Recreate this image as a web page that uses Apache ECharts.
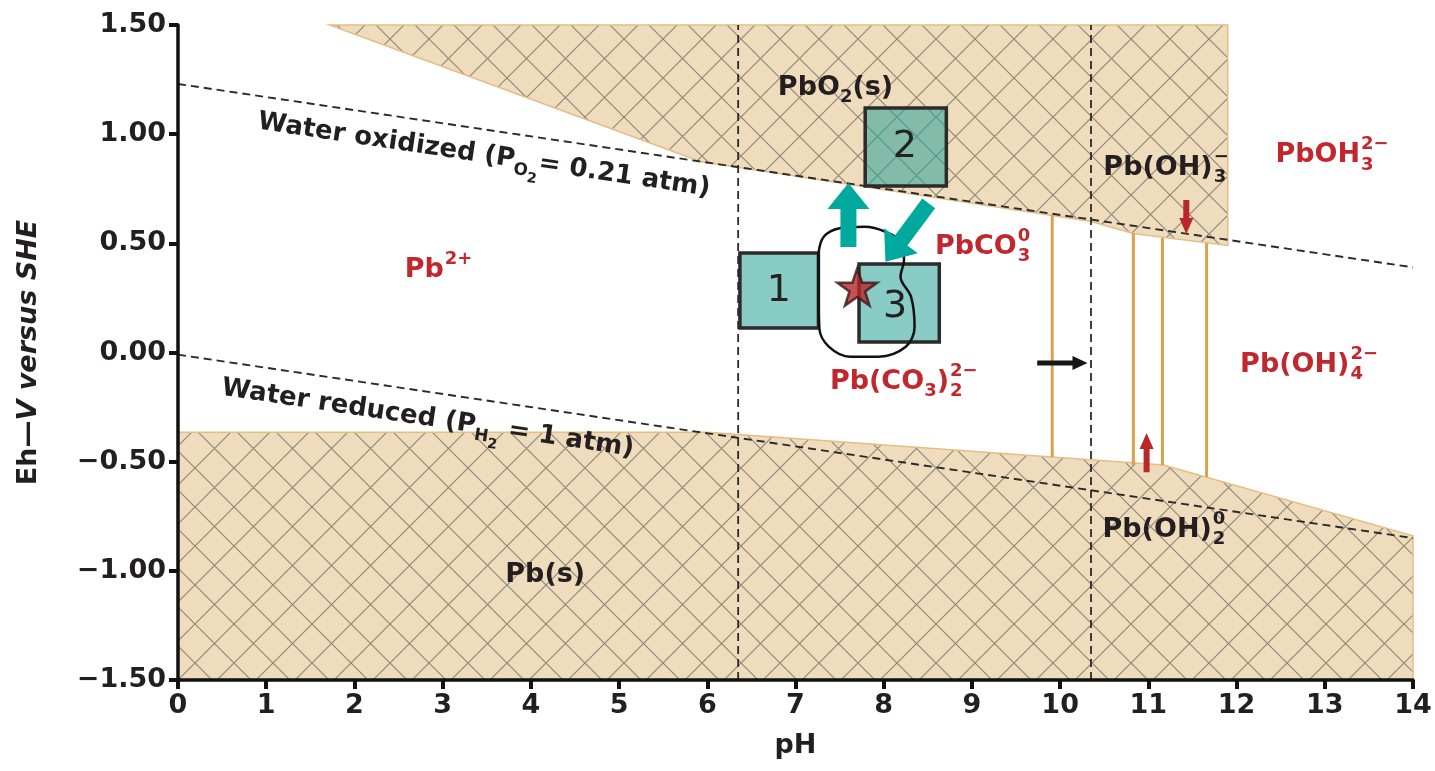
<!DOCTYPE html>
<html>
<head>
<meta charset="utf-8">
<title>Pb Eh-pH diagram</title>
<script src="https://cdn.jsdelivr.net/npm/echarts@6/dist/echarts.min.js"></script>
<style>
    html, body { margin: 0; padding: 0; background: #ffffff; }
    #main { width: 1435px; height: 771px; }
</style>
</head>
<body>
<div id="main"></div>
<script>
// ---- data (pH, Eh in V) ----
var xTickValues = [0, 1, 2, 3, 4, 5, 6, 7, 8, 9, 10, 11, 12, 13, 14];
var xTickLabels = ['0', '1', '2', '3', '4', '5', '6', '7', '8', '9', '10', '11', '12', '13', '14'];
var yTickValues = [-1.5, -1.0, -0.5, 0, 0.5, 1.0, 1.5];
var yTickLabels = ['\u22121.50', '\u22121.00', '\u22120.50', '0.00', '0.50', '1.00', '1.50'];

var waterOxLine = [[0, 1.23], [14, 0.39]];
var waterRedLine = [[0, -0.01], [14, -0.85]];
var pbo2Region = [[1.72, 1.5], [11.9, 1.5], [11.9, 0.49], [10.83, 0.545], [10.35, 0.60], [5.92, 0.875]];
var pbRegion = [[0, -0.365], [6.0, -0.365], [11.17, -0.515], [14, -0.84], [14, -1.5], [0, -1.5]];
var dividerPH = [6.35, 10.35];
// [pH, top Eh, bottom Eh]
var orangeLines = [[9.91, 0.63, -0.48], [10.83, 0.547, -0.516], [11.16, 0.524, -0.516], [11.66, 0.50, -0.57]];
// [pH min, pH max, Eh min, Eh max]
var boxes = [[6.37, 7.26, 0.112, 0.456], [7.79, 8.71, 0.763, 1.120], [7.72, 8.63, 0.048, 0.405]];
var boxNames = ['1', '2', '3'];
var boxNamePos = [[6.81, 0.282], [8.24, 0.941], [8.13, 0.208]];
var starPoint = [7.70, 0.30];
var loopCurve = [
    [7.26, 0.454], [7.32, 0.530], [7.50, 0.569], [7.78, 0.576], [8.02, 0.553], [8.21, 0.500],
    [8.23, 0.423], [8.19, 0.347], [8.31, 0.255], [8.35, 0.118], [8.25, 0.026], [7.94, -0.019],
    [7.62, -0.019], [7.38, 0.026], [7.27, 0.111], [7.26, 0.30], [7.26, 0.454]
];
// [from pH, from Eh, to pH, to Eh]
var tealArrows = [[7.60, 0.483, 7.60, 0.776], [8.51, 0.683, 8.02, 0.416]];
var blackArrows = [[9.74, -0.048, 10.31, -0.048]];
var redArrows = [[10.98, -0.548, 10.98, -0.369], [11.43, 0.698, 11.43, 0.543]];

var RED = '#c1272d', INK = '#231f20';
var chemLabels = [
    { pos: [6.80, 1.211], color: INK, parts: [['PbO', 'n'], ['2', 'sub'], ['(s)', 'n']] },
    { pos: [2.57, 0.378], color: RED, parts: [['Pb', 'n'], ['2+', 'sup']] },
    { pos: [8.58, 0.483], color: RED, parts: [['PbCO', 'n'], ['3', 'ss', '0']] },
    { pos: [7.39, -0.135], color: RED, parts: [['Pb(CO', 'n'], ['3', 'sub'], [')', 'n'], ['2', 'ss', '2\u2212']] },
    { pos: [10.49, 0.845], color: INK, parts: [['Pb(OH)', 'n'], ['3', 'ss', '\u2212']] },
    { pos: [12.44, 0.904], color: RED, parts: [['PbOH', 'n'], ['3', 'ss', '2\u2212']] },
    { pos: [12.04, -0.057], color: RED, parts: [['Pb(OH)', 'n'], ['4', 'ss', '2\u2212']] },
    { pos: [10.48, -0.813], color: INK, parts: [['Pb(OH)', 'n'], ['2', 'ss', '0']] },
    { pos: [3.71, -1.02], color: INK, parts: [['Pb(s)', 'n']] },
    { pos: [0.907, 1.056], color: INK, along: waterOxLine, size: 26,
      parts: [['Water oxidized (P', 'n'], ['O', 'sub'], ['2', 'sub2'], ['= 0.21 atm)', 'n']] },
    { pos: [0.497, -0.163], color: INK, along: waterRedLine, size: 26,
      parts: [['Water reduced (P', 'n'], ['H', 'sub'], ['2', 'sub2'], [' = 1 atm)', 'n']] }
];

var FAMILY = '"DejaVu Sans"';
var measureCtx = document.createElement('canvas').getContext('2d');
function textW(t, font) { measureCtx.font = font; return measureCtx.measureText(t).width; }

// tan fill with cross hatch
function hatchPattern() {
    var s = 39, c = document.createElement('canvas');
    c.width = s; c.height = s;
    var g = c.getContext('2d');
    g.fillStyle = '#efdcbc';
    g.fillRect(0, 0, s, s);
    g.strokeStyle = 'rgba(80,80,80,0.6)';
    g.lineWidth = 1.2;
    g.beginPath();
    g.moveTo(0, 0); g.lineTo(s, s);
    g.moveTo(s, 0); g.lineTo(0, s);
    g.stroke();
    return c;
}
var hatch = { image: hatchPattern(), repeat: 'repeat' };

function polySeries(points, z) {
    return {
        type: 'custom', coordinateSystem: 'cartesian2d', silent: true, z: z,
        data: [[points[0][0], points[0][1]]],
        renderItem: function (params, api) {
            return {
                type: 'polygon',
                shape: { points: points.map(function (p) { return api.coord(p); }) },
                style: { fill: hatch, stroke: '#e6bd84', lineWidth: 1.5 }
            };
        }
    };
}

function segSeries(pts, color, width, type, z) {
    return {
        type: 'line', data: pts, symbol: 'none', silent: true, z: z,
        lineStyle: { color: color, width: width, type: type }
    };
}

function arrowSeries(list, color, shaft, headW, headL, z) {
    return {
        type: 'custom', coordinateSystem: 'cartesian2d', silent: true, z: z,
        data: list.map(function (a) { return [a[0], a[1]]; }),
        renderItem: function (params, api) {
            var a = list[params.dataIndex];
            var p0 = api.coord([a[0], a[1]]), p1 = api.coord([a[2], a[3]]);
            var dx = p1[0] - p0[0], dy = p1[1] - p0[1];
            var len = Math.sqrt(dx * dx + dy * dy);
            var ux = dx / len, uy = dy / len, nx = -uy, ny = ux;
            var bx = p1[0] - ux * headL, by = p1[1] - uy * headL;
            return {
                type: 'polygon',
                shape: { points: [
                    [p0[0] + nx * shaft / 2, p0[1] + ny * shaft / 2],
                    [bx + nx * shaft / 2, by + ny * shaft / 2],
                    [bx + nx * headW / 2, by + ny * headW / 2],
                    p1,
                    [bx - nx * headW / 2, by - ny * headW / 2],
                    [bx - nx * shaft / 2, by - ny * shaft / 2],
                    [p0[0] - nx * shaft / 2, p0[1] - ny * shaft / 2]
                ] },
                style: { fill: color }
            };
        }
    };
}

// chemical formula labels with sub / superscripts
function labelItem(lab, api) {
    var p = api.coord(lab.pos);
    var size = lab.size || 27, small = Math.round(size * 0.66), tiny = Math.round(size * 0.52);
    var big = 'bold ' + size + 'px ' + FAMILY;
    var sm = 'bold ' + small + 'px ' + FAMILY;
    var tn = 'bold ' + tiny + 'px ' + FAMILY;
    var x = 0, kids = [];
    function put(t, font, dx, dy) {
        kids.push({ type: 'text', x: dx, y: dy, style: {
            text: t, font: font, fill: lab.color, textAlign: 'left', textVerticalAlign: 'middle' } });
    }
    lab.parts.forEach(function (pt) {
        var t = pt[0], k = pt[1];
        if (k === 'n') { put(t, big, x, 0); x += textW(t, big); }
        else if (k === 'sub') { put(t, sm, x, size * 0.36); x += textW(t, sm); }
        else if (k === 'sub2') { put(t, tn, x, size * 0.62); x += textW(t, tn); }
        else if (k === 'sup') { put(t, sm, x + 1, -size * 0.4); x += textW(t, sm); }
        else if (k === 'ss') {
            put(t, sm, x + 1, size * 0.36);
            put(pt[2], sm, x + 1, -size * 0.4);
            x += Math.max(textW(t, sm), textW(pt[2], sm));
        }
    });
    var rot = 0;
    if (lab.along) {
        var a = api.coord(lab.along[0]), b = api.coord(lab.along[1]);
        rot = -Math.atan2(b[1] - a[1], b[0] - a[0]);
    }
    return { type: 'group', x: p[0], y: p[1], rotation: rot, children: kids };
}

var series = [];
series.push(polySeries(pbo2Region, 1));
series.push(polySeries(pbRegion, 1));
series.push(segSeries(waterOxLine, '#2a2a2a', 1.9, [8, 5], 3));
series.push(segSeries(waterRedLine, '#2a2a2a', 1.9, [8, 5], 3));
dividerPH.forEach(function (x) {
    series.push(segSeries([[x, -1.5], [x, 1.5]], '#2a2a2a', 1.8, [8, 5], 3));
});
orangeLines.forEach(function (o) {
    series.push(segSeries([[o[0], o[1]], [o[0], o[2]]], '#daa24c', 3, 'solid', 3));
});
series.push({
    type: 'custom', coordinateSystem: 'cartesian2d', silent: true, z: 5,
    data: boxes.map(function (b) { return [b[0], b[2]]; }),
    renderItem: function (params, api) {
        var b = boxes[params.dataIndex];
        var p0 = api.coord([b[0], b[3]]), p1 = api.coord([b[1], b[2]]);
        return {
            type: 'rect',
            shape: { x: p0[0], y: p0[1], width: p1[0] - p0[0], height: p1[1] - p0[1] },
            style: { fill: 'rgba(40,160,150,0.55)', stroke: '#2b2b2b', lineWidth: 3.5 }
        };
    }
});
series.push({
    type: 'line', data: loopCurve, symbol: 'none', smooth: 0.35, silent: true, z: 6,
    lineStyle: { color: '#111', width: 2.5 }
});
series.push({
    type: 'scatter', data: [starPoint], silent: true, z: 7,
    symbol: 'path://M50,0 L61.8,35.1 L98.1,35.1 L68.8,56.7 L79.4,91 L50,70 L20.6,91 L31.2,56.7 L1.9,35.1 L38.2,35.1 Z',
    symbolSize: [40, 37],
    itemStyle: { color: '#b8262a', borderColor: '#3a1818', borderWidth: 2.5 }
});
series.push(arrowSeries(tealArrows, '#00a99d', 16, 42, 26, 8));
series.push(arrowSeries(blackArrows, '#151515', 5, 14, 15, 8));
series.push(arrowSeries(redArrows, '#b8282a', 6, 14, 16, 8));
series.push({
    type: 'custom', coordinateSystem: 'cartesian2d', silent: true, z: 9,
    data: boxNamePos,
    renderItem: function (params, api) {
        var p = api.coord(boxNamePos[params.dataIndex]);
        return { type: 'text', x: p[0], y: p[1], style: {
            text: boxNames[params.dataIndex], font: '38px ' + FAMILY, fill: '#222',
            textAlign: 'center', textVerticalAlign: 'middle' } };
    }
});
series.push({
    type: 'custom', coordinateSystem: 'cartesian2d', silent: true, z: 10,
    data: chemLabels.map(function (l) { return l.pos; }),
    renderItem: function (params, api) { return labelItem(chemLabels[params.dataIndex], api); }
});

var axisText = { fontFamily: FAMILY, fontWeight: 'bold', fontSize: 27, color: INK };

var chart = echarts.init(document.getElementById('main'));
chart.setOption({
    animation: false,
    backgroundColor: '#ffffff',
    grid: { left: 178, right: 22, top: 25, bottom: 91 },
    xAxis: {
        type: 'value', min: 0, max: 14, interval: 1, z: 20,
        name: 'pH', nameLocation: 'middle', nameGap: 52,
        nameTextStyle: axisText,
        axisLine: { onZero: false, lineStyle: { color: '#111', width: 3.5 } },
        axisTick: { length: 9, lineStyle: { color: '#111', width: 4 } },
        axisLabel: Object.assign({ margin: 12, formatter: function (v) {
            var i = xTickValues.indexOf(Math.round(v));
            return i >= 0 ? xTickLabels[i] : '';
        } }, axisText),
        splitLine: { show: false }
    },
    yAxis: {
        type: 'value', min: -1.5, max: 1.5, interval: 0.5, z: 20,
        name: '{a|Eh\u2014}{b|V versus SHE}', nameLocation: 'middle', nameGap: 136,
        nameTextStyle: {
            rich: {
                a: { fontFamily: FAMILY, fontWeight: 'bold', fontSize: 27, color: INK },
                b: { fontFamily: FAMILY, fontWeight: 'bold', fontStyle: 'italic', fontSize: 27, color: INK }
            }
        },
        axisLine: { onZero: false, lineStyle: { color: '#111', width: 3.5 } },
        axisTick: { length: 9, lineStyle: { color: '#111', width: 4 } },
        axisLabel: Object.assign({ margin: 12, formatter: function (v) {
            for (var i = 0; i < yTickValues.length; i++) {
                if (Math.abs(yTickValues[i] - v) < 1e-6) return yTickLabels[i];
            }
            return '';
        } }, axisText),
        splitLine: { show: false }
    },
    series: series
});
</script>
</body>
</html>
